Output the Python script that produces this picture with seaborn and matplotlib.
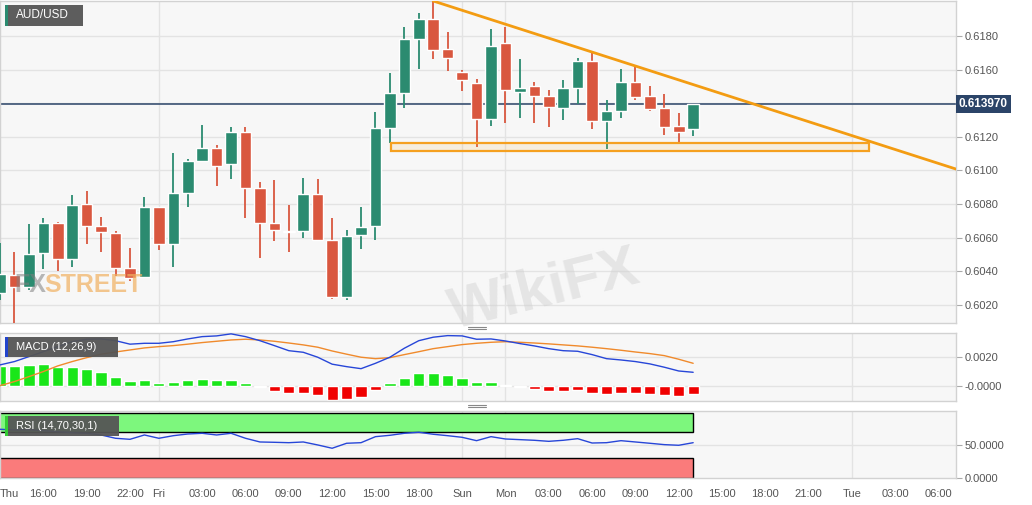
import numpy as np
import pandas as pd
import matplotlib
matplotlib.use("Agg")
import matplotlib.pyplot as plt
from matplotlib.patches import Rectangle
from matplotlib.lines import Line2D
import seaborn as sns

# hourly candles, index 0 = Thu 13:00 (weekend removed)
abertura = [0.60270, 0.60377, 0.60306, 0.60508, 0.60687, 0.60473, 0.60800, 0.60669, 0.60627, 0.60419,
            0.60366, 0.60782, 0.60562, 0.60866, 0.61056, 0.61133, 0.61038, 0.61229, 0.60895, 0.60687,
            0.60639, 0.60639, 0.60860, 0.60586, 0.60247, 0.60616, 0.60669, 0.61252, 0.61461, 0.61782,
            0.61901, 0.61723, 0.61586, 0.61520, 0.61306, 0.61758, 0.61467, 0.61502, 0.61443, 0.61371,
            0.61490, 0.61651, 0.61294, 0.61354, 0.61526, 0.61443, 0.61371, 0.61264, 0.61246]
maxima = [0.60568, 0.60514, 0.60681, 0.60717, 0.60693, 0.60854, 0.60877, 0.60723, 0.60639, 0.60538,
          0.60842, 0.60785, 0.61104, 0.61068, 0.61270, 0.61151, 0.61258, 0.61258, 0.60931, 0.60943,
          0.60794, 0.60955, 0.60949, 0.60717, 0.60645, 0.60782, 0.61348, 0.61580, 0.61854, 0.61937,
          0.62008, 0.61824, 0.61598, 0.61544, 0.61842, 0.61854, 0.61663, 0.61526, 0.61479, 0.61538,
          0.61669, 0.61699, 0.61419, 0.61604, 0.61615, 0.61502, 0.61455, 0.61342, 0.61397]
minima = [0.60229, 0.60092, 0.60288, 0.60413, 0.60401, 0.60425, 0.60562, 0.60514, 0.60372, 0.60342,
          0.60360, 0.60526, 0.60425, 0.60782, 0.61050, 0.60907, 0.60949, 0.60717, 0.60479, 0.60580,
          0.60514, 0.60598, 0.60580, 0.60235, 0.60229, 0.60532, 0.60586, 0.61163, 0.61371, 0.61604,
          0.61663, 0.61592, 0.61473, 0.61139, 0.61264, 0.61282, 0.61312, 0.61282, 0.61258, 0.61300,
          0.61397, 0.61246, 0.61127, 0.61312, 0.61419, 0.61354, 0.61211, 0.61163, 0.61205]
fechamento = [0.60383, 0.60306, 0.60502, 0.60687, 0.60473, 0.60794, 0.60669, 0.60633, 0.60419, 0.60360,
              0.60782, 0.60562, 0.60866, 0.61056, 0.61133, 0.61026, 0.61229, 0.60895, 0.60687, 0.60645,
              0.60633, 0.60860, 0.60586, 0.60247, 0.60610, 0.60663, 0.61252, 0.61461, 0.61782, 0.61901,
              0.61717, 0.61669, 0.61538, 0.61306, 0.61740, 0.61479, 0.61490, 0.61443, 0.61377, 0.61490,
              0.61651, 0.61294, 0.61354, 0.61526, 0.61437, 0.61366, 0.61258, 0.61229, 0.61397]

macd = [0.00143, 0.00166, 0.00200, 0.00234, 0.00269, 0.00303, 0.00320, 0.00322, 0.00310, 0.00286,
        0.00292, 0.00292, 0.00303, 0.00322, 0.00338, 0.00343, 0.00357, 0.00338, 0.00310, 0.00276,
        0.00241, 0.00230, 0.00196, 0.00148, 0.00131, 0.00117, 0.00154, 0.00196, 0.00258, 0.00310,
        0.00334, 0.00345, 0.00343, 0.00320, 0.00322, 0.00308, 0.00290, 0.00274, 0.00255, 0.00241,
        0.00237, 0.00214, 0.00186, 0.00177, 0.00166, 0.00150, 0.00127, 0.00101, 0.00092]
sinal = [0.00000, 0.00028, 0.00062, 0.00097, 0.00136, 0.00166, 0.00193, 0.00217, 0.00232, 0.00246,
         0.00260, 0.00269, 0.00276, 0.00286, 0.00297, 0.00306, 0.00315, 0.00320, 0.00315, 0.00306,
         0.00294, 0.00281, 0.00265, 0.00239, 0.00217, 0.00196, 0.00186, 0.00193, 0.00214, 0.00234,
         0.00255, 0.00269, 0.00283, 0.00292, 0.00299, 0.00303, 0.00299, 0.00294, 0.00288, 0.00281,
         0.00274, 0.00265, 0.00255, 0.00244, 0.00232, 0.00221, 0.00207, 0.00182, 0.00154]
histograma = [0.00138, 0.00138, 0.00143, 0.00150, 0.00131, 0.00131, 0.00115, 0.00094, 0.00060, 0.00032,
              0.00037, 0.00021, 0.00026, 0.00039, 0.00046, 0.00039, 0.00041, 0.00021, -0.00008, -0.00039,
              -0.00052, -0.00048, -0.00066, -0.00099, -0.00092, -0.00078, -0.00032, 0.00017, 0.00053, 0.00086,
              0.00086, 0.00076, 0.00053, 0.00026, 0.00026, 0.00005, -0.00007, -0.00021, -0.00037, -0.00037,
              -0.00030, -0.00050, -0.00055, -0.00048, -0.00048, -0.00055, -0.00064, -0.00069, -0.00057]
rsi = [74.7, 73.6, 74.0, 72.6, 71.0, 69.5, 68.5, 65.9, 60.8, 59.2,
       65.9, 60.8, 64.8, 67.4, 68.5, 65.9, 68.5, 60.8, 55.1, 54.6,
       54.0, 55.1, 50.5, 45.4, 53.1, 54.0, 63.3, 65.4, 68.5, 70.1,
       67.0, 64.8, 62.3, 57.1, 63.3, 59.7, 58.7, 57.7, 56.1, 57.7,
       60.2, 53.5, 54.0, 57.1, 55.1, 53.1, 51.0, 50.0, 54.0]

# drawn objects: descending trend line and support zone
tendencia_x = [30, 66.2]
tendencia_y = [0.62008, 0.61008]
zona_x = [27.1, 60.2]
zona_y = [0.61118, 0.61163]

tick_pos = [0, 3, 6, 9, 11, 14, 17, 20, 23, 26, 29, 32, 35, 38, 41, 44, 47, 50, 53, 56, 59, 62, 65]
tick_txt = ["Thu", "16:00", "19:00", "22:00", "Fri", "03:00", "06:00", "09:00", "12:00", "15:00",
            "18:00", "Sun", "Mon", "03:00", "06:00", "09:00", "12:00", "15:00", "18:00", "21:00",
            "Tue", "03:00", "06:00"]
dias = [11, 32, 35, 59]

VERDE = "#2b8b70"
VERMELHO = "#d9573f"
GRADE = "#e3e3e3"
BORDA = "#d2d2d2"

sns.set_style("white")
plt.rcParams["font.family"] = ["Liberation Sans", "DejaVu Sans"]

W, H = 1032, 505
fig = plt.figure(figsize=(W / 100, H / 100), dpi=100)


def caixa(x0, y0, x1, y1):
    return [x0 / W, 1 - y1 / H, (x1 - x0) / W, (y1 - y0) / H]


ax_p = fig.add_axes(caixa(0, 1, 956, 323))
ax_m = fig.add_axes(caixa(0, 333, 956, 401), sharex=ax_p)
ax_r = fig.add_axes(caixa(0, 411, 956, 478), sharex=ax_p)

df = pd.DataFrame({"hora": np.arange(len(fechamento)), "abertura": abertura, "maxima": maxima,
                   "minima": minima, "fechamento": fechamento, "macd": macd, "sinal": sinal,
                   "hist": histograma, "rsi": rsi})

for ax in (ax_p, ax_m, ax_r):
    ax.set_facecolor("#f7f7f7")
    for s in ax.spines.values():
        s.set_color(BORDA)
        s.set_linewidth(1)
    for d in dias:
        ax.axvline(d, color=GRADE, lw=1, zorder=0)
    ax.yaxis.tick_right()
    ax.tick_params(axis="y", length=4, color="#aaaaaa", labelcolor="#555555", labelsize=8, pad=2)
    ax.tick_params(axis="x", length=0, labelbottom=False)

# --- price panel
niveis = np.arange(0.602, 0.6181, 0.002)
for v in niveis:
    ax_p.axhline(v, color=GRADE, lw=1, zorder=0)

cores = [VERDE if c >= o else VERMELHO for o, c in zip(df["abertura"], df["fechamento"])]
ax_p.vlines(df["hora"], df["minima"], df["maxima"], colors=cores, lw=1.3, zorder=3)
corpo = np.maximum((df["fechamento"] - df["abertura"]).abs(), 0.00003)
ax_p.bar(df["hora"], corpo, bottom=np.minimum(df["abertura"], df["fechamento"]),
         width=0.8, color=cores, zorder=3)

ultimo = fechamento[-1]
ax_p.axhline(ultimo, color="#2b4468", lw=1.1, zorder=2)
ax_p.plot(tendencia_x, tendencia_y, color="#f39c12", lw=2, zorder=4)
ax_p.add_patch(Rectangle((zona_x[0], zona_y[0]), zona_x[1] - zona_x[0], zona_y[1] - zona_y[0],
                         fc=(0.96, 0.65, 0.14, 0.12), ec="#f5a020", lw=1.6, zorder=4))

# 0.6140 label sits under the last-price tag, so it is left out
rotulos_y = [v for v in niveis if abs(v - 0.614) > 1e-6]
ax_p.set_ylim(0.60092, 0.62008)
ax_p.set_yticks(rotulos_y)
ax_p.set_yticklabels([f"{v:.4f}" for v in rotulos_y])
ax_p.text(1.003, ultimo, f"{ultimo:.6f}", transform=ax_p.get_yaxis_transform(),
          color="white", fontsize=8.5, fontweight="bold", va="center", ha="left", clip_on=False,
          bbox=dict(boxstyle="square,pad=0.25", fc="#2b4468", ec="none"))

# watermarks
marca = ["Liberation Sans Narrow", "Liberation Sans", "DejaVu Sans"]
ax_p.text(0.015, 0.118, "FX", transform=ax_p.transAxes, fontsize=18, fontweight="bold",
          family=marca, color="#808080", alpha=0.55, va="center", zorder=5)
ax_p.text(0.046, 0.118, "STREET", transform=ax_p.transAxes, fontsize=18, fontweight="bold",
          family=marca, color="#f0b060", alpha=0.7, va="center", zorder=5)
ax_p.text(0.57, 0.1, "WikiFX", transform=ax_p.transAxes, fontsize=42, fontweight="bold",
          color="#cfcfcf", alpha=0.45, va="center", ha="center", rotation=14, zorder=1)

# --- MACD panel
cores_h = ["#19e619" if h >= 0 else "#f00000" for h in df["hist"]]
ax_m.bar(df["hora"], df["hist"], width=0.78, color=cores_h, zorder=2)
sns.lineplot(data=df, x="hora", y="sinal", ax=ax_m, color="#f08a2c", lw=1, zorder=3)
sns.lineplot(data=df, x="hora", y="macd", ax=ax_m, color="#2746d8", lw=1, zorder=3)
for v in (0.0, 0.002):
    ax_m.axhline(v, color=GRADE, lw=1, zorder=0)
ax_m.set_ylim(-0.00106, 0.00363)
ax_m.set_yticks([0.002, 0.0])
ax_m.set_yticklabels(["0.0020", "-0.0000"])

# --- RSI panel
ax_r.axhline(50, color=GRADE, lw=1, zorder=0)
fim = df["hora"].iloc[-1]
ax_r.add_patch(Rectangle((-1, 70), fim + 1, 30, fc="#7df77d", ec="black", lw=1, zorder=1))
ax_r.add_patch(Rectangle((-1, 0), fim + 1, 30, fc="#fa7b7b", ec="black", lw=1, zorder=1))
sns.lineplot(data=df, x="hora", y="rsi", ax=ax_r, color="#2746d8", lw=1, zorder=3)
ax_r.set_ylim(-0.5, 102.9)
ax_r.set_yticks([50, 0])
ax_r.set_yticklabels(["50.0000", "0.0000"])

for ax in (ax_p, ax_m, ax_r):
    ax.set_xlabel("")
    ax.set_ylabel("")

ax_r.set_xlim(0, 66.2)
ax_r.set_xticks(tick_pos)
ax_r.set_xticklabels(tick_txt)
ax_r.tick_params(axis="x", length=4, color="#aaaaaa", labelcolor="#555555", labelsize=8,
                 labelbottom=True, pad=4)
ax_r.get_xticklabels()[0].set_ha("left")


# panel labels
def rotulo(x0, y0, x1, y1, texto, faixa, tamanho):
    fig.add_artist(Rectangle((x0 / W, 1 - y1 / H), (x1 - x0) / W, (y1 - y0) / H,
                             transform=fig.transFigure, fc="#555555", alpha=0.95, ec="none"))
    fig.add_artist(Rectangle((x0 / W, 1 - y1 / H), 2.5 / W, (y1 - y0) / H,
                             transform=fig.transFigure, fc=faixa, ec="none"))
    fig.text((x0 + 11) / W, 1 - (y0 + y1) / 2 / H, texto, color="white", fontsize=tamanho,
             va="center", ha="left")


rotulo(5, 5, 83, 26, "AUD/USD", VERDE, 8.5)
rotulo(5, 337, 118, 357, "MACD (12,26,9)", "#2244cc", 8)
rotulo(5, 416, 119, 436, "RSI (14,70,30,1)", "#33cc33", 8)

# resize handles between panels
for yy in (326.5, 329, 404.5, 407):
    fig.add_artist(Line2D([468 / W, 486 / W], [1 - yy / H] * 2, color="#888888", lw=0.8))

fig.savefig("out.png", dpi=100, facecolor="white")
